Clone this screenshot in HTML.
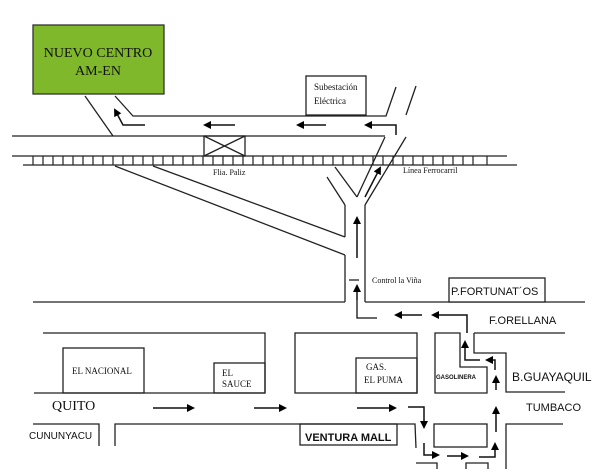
<!DOCTYPE html>
<html><head><meta charset="utf-8"><style>
html,body{margin:0;padding:0;background:#fff;width:600px;height:469px;overflow:hidden}
svg{display:block}
text{font-family:"Liberation Serif",serif;fill:#111}
.s{font-family:"Liberation Sans",sans-serif}
</style></head><body>
<svg width="600" height="469" viewBox="0 0 600 469" xmlns="http://www.w3.org/2000/svg">
<defs>
<marker id="a" markerWidth="8" markerHeight="8" refX="6" refY="4" orient="auto" markerUnits="userSpaceOnUse"><path d="M0,0 L8,4 L0,8 z" fill="#000"/></marker>
</defs>
<g stroke="#222" stroke-width="1.3" fill="none">
<!-- green box -->
<rect x="33" y="25" width="131" height="69" fill="#7fb82a" stroke="#333"/>
<!-- roads from box -->
<line x1="85" y1="96" x2="113" y2="136"/>
<polyline points="115,96 133,116 386,116 396,87"/>
<line x1="406" y1="115" x2="416" y2="86"/>
<rect x="306" y="76" width="60" height="39" fill="#fff"/>
<line x1="12" y1="136" x2="385" y2="136"/>
<!-- Y -->
<line x1="385" y1="137" x2="357" y2="197"/>
<line x1="335" y1="167" x2="357" y2="197"/>
<line x1="327" y1="177" x2="345" y2="205"/>
<line x1="406" y1="137" x2="365" y2="205"/>
<line x1="345" y1="205" x2="345" y2="237"/>
<line x1="345" y1="255" x2="345" y2="302"/>
<line x1="365" y1="205" x2="365" y2="302"/>
<!-- crossing -->
<rect x="204" y="136" width="41" height="20"/>
<line x1="204" y1="136" x2="245" y2="156"/><line x1="245" y1="136" x2="204" y2="156"/>
<!-- rail -->
<line x1="12" y1="156" x2="507" y2="156"/>
<line x1="23" y1="165" x2="517" y2="165"/>
<!-- diagonals -->
<line x1="115" y1="166" x2="345" y2="255"/>
<line x1="153" y1="166" x2="345" y2="237"/>
<!-- bottom area -->
<line x1="33" y1="302" x2="345" y2="302"/>
<line x1="365" y1="302" x2="585" y2="302"/>
<rect x="449" y="278" width="96" height="24" fill="#fff"/>
<polyline points="43,333 265,333 265,393"/>
<rect x="63" y="348" width="81" height="45"/>
<rect x="214" y="363" width="51" height="30"/>
<line x1="34" y1="393" x2="265" y2="393"/>
<polyline points="33,424 99,424 99,446"/>
<polyline points="115,446 115,424 415,424 416,448"/>
<rect x="295" y="333" width="122" height="60"/>
<rect x="356" y="358" width="61" height="35"/>
<rect x="300" y="424" width="97" height="21"/>
<polygon points="435,333 460,333 460,367 487,367 487,393 435,393"/>
<rect x="434" y="424" width="53" height="23"/>
<polyline points="474,333 565,333"/>
<polyline points="474,333 474,353 506,353 506,392 565,392"/>
<polyline points="506,469 506,424 563,424"/>
<polyline points="416,463 437,463 437,469"/>
<polyline points="466,469 466,463 488,463 488,469"/>
<line x1="349" y1="280" x2="359" y2="280"/>
</g>
<!-- arrows -->
<g stroke="#111" stroke-width="1.5" fill="none" marker-end="url(#a)">
<polyline points="145,125 123,125 115,110"/>
<line x1="235" y1="125" x2="205" y2="125"/>
<line x1="326" y1="125" x2="298" y2="125"/>
<polyline points="396,135 396,125 366,125"/>
<line x1="365" y1="197" x2="380" y2="168"/>
<line x1="357" y1="258" x2="357" y2="218"/>
<line x1="357" y1="300" x2="357" y2="286"/>
<line x1="153" y1="408" x2="193" y2="408"/>
<line x1="254" y1="408" x2="285" y2="408"/>
<line x1="357" y1="408" x2="395" y2="408"/>
<polyline points="408,407 424,407 424,427"/>
<polyline points="424,443 424,455 438,455"/>
<line x1="447" y1="456" x2="467" y2="456"/>
<polyline points="479,457 495,457 495,444"/>
<line x1="496" y1="432" x2="496" y2="408"/>
<line x1="496" y1="390" x2="496" y2="377"/>
<polyline points="495,370 495,360 487,360"/>
<polyline points="480,360 465,360 465,342"/>
<polyline points="467,333 467,315 433,315"/>
<line x1="422" y1="315" x2="396" y2="315"/>
</g>
<polyline points="357,300 357,318 377,318" stroke="#111" stroke-width="1.3" fill="none"/>
<!-- rail ties -->
<g stroke="#222" stroke-width="1.2">
<line x1="33" y1="156" x2="33" y2="165"/><line x1="43" y1="156" x2="43" y2="165"/><line x1="53" y1="156" x2="53" y2="165"/><line x1="63" y1="156" x2="63" y2="165"/><line x1="73" y1="156" x2="73" y2="165"/><line x1="83" y1="156" x2="83" y2="165"/><line x1="93" y1="156" x2="93" y2="165"/><line x1="103" y1="156" x2="103" y2="165"/><line x1="113" y1="156" x2="113" y2="165"/><line x1="123" y1="156" x2="123" y2="165"/><line x1="133" y1="156" x2="133" y2="165"/><line x1="143" y1="156" x2="143" y2="165"/><line x1="153" y1="156" x2="153" y2="165"/><line x1="163" y1="156" x2="163" y2="165"/><line x1="173" y1="156" x2="173" y2="165"/><line x1="183" y1="156" x2="183" y2="165"/><line x1="193" y1="156" x2="193" y2="165"/><line x1="203" y1="156" x2="203" y2="165"/><line x1="213" y1="156" x2="213" y2="165"/><line x1="223" y1="156" x2="223" y2="165"/><line x1="233" y1="156" x2="233" y2="165"/><line x1="243" y1="156" x2="243" y2="165"/><line x1="253" y1="156" x2="253" y2="165"/><line x1="263" y1="156" x2="263" y2="165"/><line x1="273" y1="156" x2="273" y2="165"/><line x1="283" y1="156" x2="283" y2="165"/><line x1="293" y1="156" x2="293" y2="165"/><line x1="303" y1="156" x2="303" y2="165"/><line x1="313" y1="156" x2="313" y2="165"/><line x1="323" y1="156" x2="323" y2="165"/><line x1="333" y1="156" x2="333" y2="165"/><line x1="343" y1="156" x2="343" y2="165"/><line x1="353" y1="156" x2="353" y2="165"/><line x1="363" y1="156" x2="363" y2="165"/><line x1="373" y1="156" x2="373" y2="165"/><line x1="383" y1="156" x2="383" y2="165"/><line x1="393" y1="156" x2="393" y2="165"/><line x1="403" y1="156" x2="403" y2="165"/><line x1="413" y1="156" x2="413" y2="165"/><line x1="423" y1="156" x2="423" y2="165"/><line x1="433" y1="156" x2="433" y2="165"/><line x1="443" y1="156" x2="443" y2="165"/><line x1="453" y1="156" x2="453" y2="165"/><line x1="463" y1="156" x2="463" y2="165"/><line x1="473" y1="156" x2="473" y2="165"/><line x1="487" y1="156" x2="487" y2="165"/>
</g>
<!-- texts -->
<text x="98" y="57" font-size="14" text-anchor="middle" fill="#1a2a10">NUEVO CENTRO</text>
<text x="98" y="75" font-size="14" text-anchor="middle" fill="#1a2a10">AM-EN</text>
<text x="314" y="90" font-size="9">Subestación</text>
<text x="314" y="104" font-size="9">Eléctrica</text>
<text x="213" y="175" font-size="8">Flia. Paliz</text>
<text x="403" y="173" font-size="8">Línea Ferrocarril</text>
<text x="372" y="283" font-size="8">Control la Viña</text>
<text x="451" y="295" font-size="11" class="s">P.FORTUNAT´OS</text>
<text x="489" y="324" font-size="11" class="s">F.ORELLANA</text>
<text x="512" y="381" font-size="12" class="s">B.GUAYAQUIL</text>
<text x="526" y="411" font-size="11" class="s">TUMBACO</text>
<text x="72" y="374" font-size="9">EL NACIONAL</text>
<text x="222" y="376" font-size="9">EL</text>
<text x="222" y="387" font-size="9">SAUCE</text>
<text x="366" y="370" font-size="9">GAS.</text>
<text x="364" y="383" font-size="9">EL PUMA</text>
<text x="436" y="379" font-size="6" class="s" font-weight="bold">GASOLINERA</text>
<text x="52" y="410" font-size="14">QUITO</text>
<text x="29" y="439" font-size="10" class="s">CUNUNYACU</text>
<text x="305" y="441" font-size="11" class="s" font-weight="bold">VENTURA MALL</text>
</svg>
</body></html>
